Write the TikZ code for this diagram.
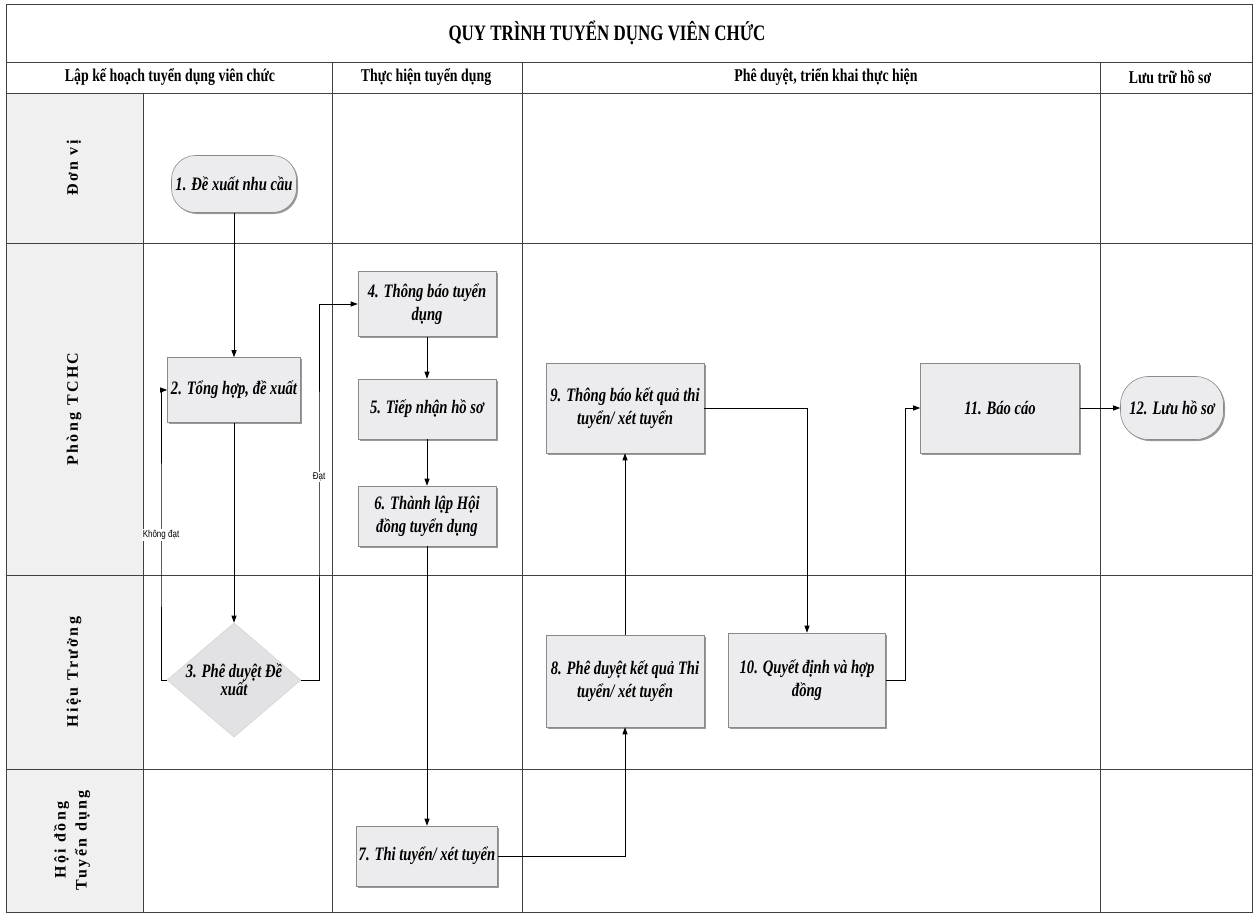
\documentclass[tikz,border=0pt]{standalone}
\usepackage{fontspec}
\setmainfont{Liberation Serif}[FakeStretch=0.77]
\newfontfamily\lanefont{Liberation Serif}[LetterSpace=15]
\newfontfamily\tagfont{Liberation Sans}[FakeStretch=0.8]
\usetikzlibrary{shapes.geometric, arrows.meta, shadows}
\definecolor{boxgray}{HTML}{ECECEF}
\definecolor{askgray}{HTML}{E2E2E4}
\definecolor{edgegray}{HTML}{8A8A8A}
\tikzset{
    >={Triangle[length=7pt, width=5pt]},
    grid/.style={draw=black!75, line width=0.9pt},
    flow/.style={->, line width=0.8pt},
    stepbox/.style={draw=edgegray, line width=0.6pt, fill=boxgray, align=center, inner sep=2pt,
        font=\bfseries\itshape\fontsize{19}{23}\selectfont,
        drop shadow={shadow xshift=1.5pt, shadow yshift=-1.5pt, fill=black!40, opacity=1}},
    endbox/.style={stepbox, rounded corners=24pt},
    askbox/.style={diamond, aspect=1.17, fill=askgray, draw=black!20, inner sep=0pt, align=center,
        font=\bfseries\itshape\fontsize{19}{18}\selectfont},
    lanelabel/.style={rotate=90, align=center, font=\lanefont\bfseries\fontsize{16}{21}\selectfont},
    colhead/.style={font=\bfseries\fontsize{18}{20}\selectfont},
    tag/.style={fill=white, inner sep=1pt, font=\tagfont\fontsize{10}{11}\selectfont}
}
\begin{document}
\begin{tikzpicture}[x = 1pt, y = -1pt]
    \useasboundingbox (0, 0) rectangle (1257, 915);
    \fill [black!6] (6, 93) rectangle (143, 912);
    \draw [grid] (6, 4) rectangle (1252, 912);
    \draw [grid] (6, 62) -- (1252, 62);
    \draw [grid] (6, 93) -- (1252, 93);
    \foreach \y in {243, 575, 769}
        \draw [grid] (6, \y) -- (1252, \y);
    \draw [grid] (143, 93) -- (143, 912);
    \foreach \x in {332, 522, 1100}
        \draw [grid] (\x, 62) -- (\x, 912);

    \node [font=\bfseries\fontsize{22}{24}\selectfont] (title) at (607, 33) {QUY TRÌNH TUYỂN DỤNG VIÊN CHỨC};
    \node [colhead] (plan) at (170, 77) {Lập kế hoạch tuyển dụng viên chức};
    \node [colhead] (run) at (426, 77) {Thực hiện tuyển dụng};
    \node [colhead] (approve) at (826, 77) {Phê duyệt, triển khai thực hiện};
    \node [colhead] (store) at (1170, 77) {Lưu trữ hồ sơ};

    \node [lanelabel] (unit) at (74, 168) {Đơn vị};
    \node [lanelabel] (office) at (74, 409) {Phòng TCHC};
    \node [lanelabel] (head) at (74, 672) {Hiệu Trưởng};
    \node [lanelabel] (board) at (72, 840) {Hội đồng\\Tuyển dụng};

    \node [endbox, minimum width = 125, minimum height = 57] (s1) at (234, 184) {1. Đề xuất nhu cầu};
    \node [stepbox, minimum width = 133, minimum height = 65] (s2) at (234, 390) {2. Tổng hợp, đề xuất};
    \node [askbox] (s3) at (234, 680) {3. Phê duyệt Đề\\xuất};
    \node [stepbox, minimum width = 138, minimum height = 65] (s4) at (427, 304) {4. Thông báo tuyển\\dụng};
    \node [stepbox, minimum width = 138, minimum height = 60] (s5) at (427, 409) {5. Tiếp nhận hồ sơ};
    \node [stepbox, minimum width = 138, minimum height = 60] (s6) at (427, 516) {6. Thành lập Hội\\đồng tuyển dụng};
    \node [stepbox, minimum width = 138, minimum height = 60] (s7) at (427, 856) {7. Thi tuyển/ xét tuyển};
    \node [stepbox, minimum width = 158, minimum height = 92] (s8) at (625, 681) {8. Phê duyệt kết quả Thi\\tuyển/ xét tuyển};
    \node [stepbox, minimum width = 158, minimum height = 90] (s9) at (625, 408) {9. Thông báo kết quả thi\\tuyển/ xét tuyển};
    \node [stepbox, minimum width = 157, minimum height = 94] (s10) at (807, 680) {10. Quyết định và hợp\\đồng};
    \node [stepbox, minimum width = 159, minimum height = 90] (s11) at (1000, 408) {11. Báo cáo};
    \node [endbox, rounded corners = 28pt, minimum width = 103, minimum height = 63] (s12) at (1172, 408) {12. Lưu hồ sơ};

    \coordinate (nogo) at (161, 535);
    \coordinate (go) at (319, 477);
    \coordinate (turn) at (905, 540);

    \draw [flow] (s1.south) -- (s2.north);
    \draw [flow] (s2.south) -- (s3.north);
    \draw [flow] (s3.west) -| (nogo) |- (s2.west);
    \draw [flow] (s3.east) -| (go) |- (s4.west);
    \draw [flow] (s4.south) -- (s5.north);
    \draw [flow] (s5.south) -- (s6.north);
    \draw [flow] (s6.south) -- (s7.north);
    \draw [flow] (s7.east) -| (s8.south);
    \draw [flow] (s8.north) -- (s9.south);
    \draw [flow] (s9.east) -| (s10.north);
    \draw [flow] (s10.east) -| (turn) |- (s11.west);
    \draw [flow] (s11.east) -- (s12.west);

    \node [tag] (nogotag) at (nogo) {Không đạt};
    \node [tag] (gotag) at (go) {Đạt};
\end{tikzpicture}
\end{document}
